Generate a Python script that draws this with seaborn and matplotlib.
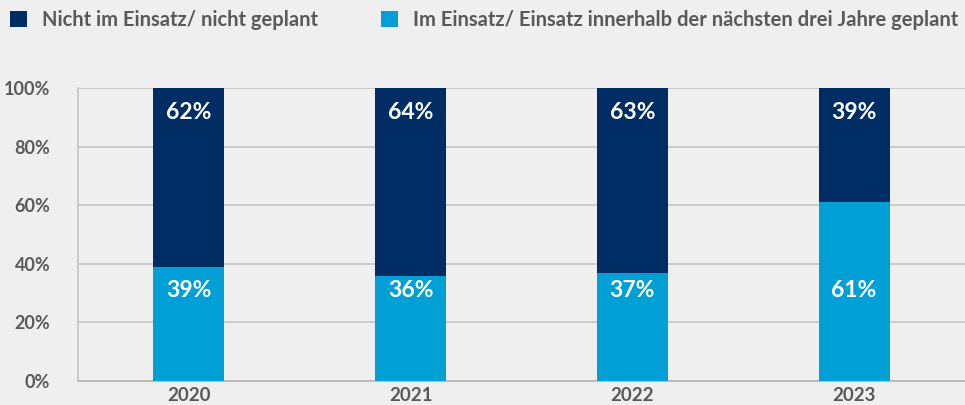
import matplotlib
matplotlib.use("Agg")
import matplotlib.pyplot as plt
from matplotlib.patches import Patch
import pandas as pd
import seaborn as sns

# Data
years = ["2020", "2021", "2022", "2023"]
share_not_used = [62, 64, 63, 39]      # Nicht im Einsatz/ nicht geplant
share_used = [39, 36, 37, 61]          # Im Einsatz/ Einsatz innerhalb der nächsten drei Jahre geplant
legend_labels = [
    "Nicht im Einsatz/ nicht geplant",
    "Im Einsatz/ Einsatz innerhalb der nächsten drei Jahre geplant",
]
y_ticks = [0, 20, 40, 60, 80, 100]

DARK = "#002d64"
LIGHT = "#00a0d7"
BG = "#efefef"
TEXT = "#595959"
GRID = "#c4c4c4"

sns.set_theme(style="white")
plt.rcParams["font.family"] = ["Lato", "DejaVu Sans"]

df = pd.DataFrame({
    "year": years,
    "used": share_used,
    "not_used": share_not_used,
})
df["total"] = df["used"] + df["not_used"]

fig = plt.figure(figsize=(9.65, 4.05), dpi=100, facecolor=BG)
ax = fig.add_axes([78 / 965, 24 / 405, 1 - 78 / 965, (381 - 88) / 405])
ax.set_facecolor(BG)

# layered bars: full stack in dark, lower share in light on top
bar_kw = dict(width=0.32, saturation=1, ax=ax, zorder=3,
              edgecolor="none", linewidth=0)
sns.barplot(data=df, x="year", y="total", color=DARK, **bar_kw)
sns.barplot(data=df, x="year", y="used", color=LIGHT, **bar_kw)

ax.set_ylim(0, 100)
ax.set_xlim(-0.5, len(years) - 0.5)
ax.set_yticks(y_ticks)
ax.set_yticklabels([f"{t}%" for t in y_ticks])
ax.yaxis.grid(True, color=GRID, linewidth=1.2, zorder=0)
ax.set_axisbelow(True)
ax.set_xlabel("")
ax.set_ylabel("")

for side in ["top", "right"]:
    ax.spines[side].set_visible(False)
ax.spines["left"].set_color(GRID)
ax.spines["left"].set_linewidth(1.2)
ax.spines["bottom"].set_color("#b5b5b5")
ax.spines["bottom"].set_linewidth(1.2)

ax.tick_params(axis="y", length=0, pad=20, labelsize=13, labelcolor=TEXT)
ax.tick_params(axis="x", length=0, pad=4, labelsize=13.5, labelcolor=TEXT)
for lbl in ax.get_xticklabels() + ax.get_yticklabels():
    lbl.set_fontweight("bold")

# boundary tick marks between categories
ax.set_xticks([i - 0.5 for i in range(len(years) + 1)], minor=True)
ax.tick_params(axis="x", which="minor", length=6, width=1.2, color=GRID)

# value labels: fixed height band for each series
for i, (u, n) in enumerate(zip(share_used, share_not_used)):
    ax.text(i, 91.5, f"{n}%", ha="center", va="center",
            color="white", fontsize=16.5, fontweight="bold", zorder=4)
    ax.text(i, 31, f"{u}%", ha="center", va="center",
            color="white", fontsize=16.5, fontweight="bold", zorder=4)

# legend: two single-entry legends placed along the top
for x0, lab, col in zip([4 / 965, 375 / 965], legend_labels, [DARK, LIGHT]):
    fig.legend(handles=[Patch(facecolor=col, edgecolor="none")], labels=[lab],
               loc="center left", bbox_to_anchor=(x0, 1 - 20 / 405),
               frameon=False, handlelength=0.85, handleheight=0.85,
               handletextpad=0.75, borderaxespad=0, borderpad=0.3,
               prop={"size": 14.5, "weight": "bold"}, labelcolor=TEXT)

fig.savefig("out.png", dpi=100, facecolor=BG)
